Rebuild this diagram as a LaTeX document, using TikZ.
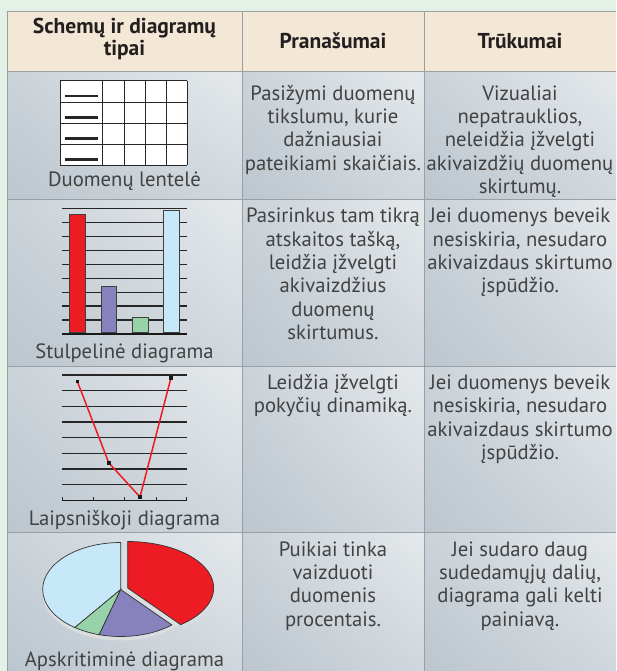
\documentclass[tikz,border=0pt]{standalone}
\usepackage{fontspec}
\setmainfont{PT Sans}
\usetikzlibrary{shadings}
\definecolor{bg}{HTML}{E3F1E6}
\definecolor{hdr}{HTML}{F3E7D6}
\definecolor{gridc}{HTML}{9C9FA2}
\definecolor{txt}{HTML}{424242}
\definecolor{htxt}{HTML}{231F20}
\definecolor{cLL}{HTML}{BCC6CE}
\definecolor{cLR}{HTML}{D0D7DC}
\definecolor{cUL}{HTML}{CBD3D9}
\definecolor{cUR}{HTML}{E5E9EC}
\definecolor{barred}{HTML}{ED1C24}
\definecolor{barpurple}{HTML}{8781BD}
\definecolor{bargreen}{HTML}{98D2A8}
\definecolor{barblue}{HTML}{C7E8F8}
\definecolor{rim}{HTML}{DADEE1}
\newcommand\bodyfont{\fontsize{20.7}{23.3}\selectfont}
\newcommand\headfont{\fontsize{21.5}{22}\selectfont\bfseries}
\tikzset{
  cellshade/.style={lower left=cLL, lower right=cLR, upper left=cUL, upper right=cUR},
  gridline/.style={draw=gridc, line width=1pt},
  bodytxt/.style={font=\bodyfont, align=center, inner sep=0pt, anchor=north, text=txt},
  headtxt/.style={font=\headfont, align=center, inner sep=0pt, text=htxt},
  captxt/.style={font=\bodyfont, inner sep=0pt, anchor=base, text=txt},
  iconline/.style={draw=black!85, line width=0.9pt},
  chartline/.style={draw=black!85, line width=1.1pt},
  baseaxis/.style={draw=black!90, line width=2pt},
  bar/.style={draw=black!75, line width=0.7pt},
  pt/.style={fill=black!90, minimum size=3.6pt, inner sep=0pt, rectangle},
  slice/.style={draw=black!80, line width=0.7pt},
}
\begin{document}
\begin{tikzpicture}[x=1pt,y=-1pt]
\useasboundingbox (0,0) rectangle (616,671);
\fill[bg] (0,0) rectangle (616,671);
% header
\fill[hdr] (7,12) rectangle (616,72);
% body cells
\foreach \ya/\yb in {72/199.5, 199.5/366, 366/532, 532/671}{
  \foreach \xa/\xb in {7/242, 242/424, 424/616}{
    \shade[cellshade] (\xa,\ya) rectangle (\xb,\yb);
  }
}
% grid lines
\draw[gridline] (7,12) -- (616,12);
\draw[gridline] (7,12) -- (7,671);
\foreach \y in {72,199.5,366,532}{ \draw[gridline] (7,\y) -- (616,\y); }
\foreach \x in {242,424}{ \draw[gridline] (\x,12) -- (\x,671); }

% header texts
\node[headtxt, anchor=north] (h1) at (124.5,18.2) {\strut Schemų ir diagramų\\tipai};
\node[headtxt, anchor=base] (h2) at (333,48.5) {Pranašumai};
\node[headtxt, anchor=base] (h3) at (520,48.5) {Trūkumai};

% row 1 icon: table
\fill[white] (60.3,80.7) rectangle (187.3,165);
\foreach \x in {60.3,102.3,124,145.3,166.7,187.3}{ \draw[iconline] (\x,80.7) -- (\x,165); }
\foreach \y in {80.7,102,123.3,144.7,165}{ \draw[iconline] (60.3,\y) -- (187.3,\y); }
\foreach \y in {96.3,117.5,138.6,159.6}{ \draw[draw=black!85, line width=2.2pt] (65,\y) -- (98.3,\y); }
\node[captxt] (c1) at (124.5,186.5) {Duomenų lentelė};

% row 2 icon: bar chart
\foreach \y in {208.3,222.3,236.3,250.3,264.3,278.3,292.3,306,320}{ \draw[chartline] (62,\y) -- (187.3,\y); }
\draw[baseaxis] (62,333.7) -- (187.3,333.7);
\filldraw[bar, fill=barred] (69.3,214) rectangle (85.7,332.7);
\filldraw[bar, fill=barpurple] (101,286) rectangle (116.7,332.7);
\filldraw[bar, fill=bargreen] (132.3,317.3) rectangle (148,332.7);
\filldraw[bar, fill=barblue] (163.3,210.7) rectangle (179.3,332.7);
\node[captxt] (c2) at (124.5,358.3) {Stulpelinė diagrama};

% row 3 icon: line chart
\foreach \y in {375,390.7,406.3,422,437.7,453.3,469,484.7}{ \draw[chartline] (62,\y) -- (187.3,\y); }
\draw[baseaxis, line width=1.6pt] (62,500.3) -- (187.3,500.3);
\foreach \x in {62.5,93.3,124.7,156,186.8}{ \draw[draw=black!85, line width=0.9pt] (\x,500.3) -- (\x,496.8); }
\node[pt] (p1) at (77.3,381.3) {};
\node[pt] (p2) at (108.7,462.7) {};
\node[pt] (p3) at (140,497) {};
\node[pt] (p4) at (171,377.7) {};
\draw[barred, line width=1.5pt] (p1.center) -- (p2.center) -- (p3.center) -- (p4.center);
\foreach \p in {p1,p2,p3,p4}{ \fill[black!90] (\p.center) +(-1.8,-1.8) rectangle +(1.8,1.8); }
\node[captxt] (c3) at (124.5,525.7) {Laipsniškoji diagrama};

% row 4 icon: pie chart
\begin{scope}[shift={(120.7,589.5)}, y=1pt]
  \fill[rim] (0,-4) ellipse [x radius=78, y radius=47];
  \filldraw[slice, fill=barblue] (0,0) -- (90:78 and 47) arc[start angle=90, end angle=234, x radius=78, y radius=47] -- cycle;
  \filldraw[slice, fill=bargreen] (0,0) -- (234:78 and 47) arc[start angle=234, end angle=254, x radius=78, y radius=47] -- cycle;
  \filldraw[slice, fill=barpurple] (0,0) -- (254:78 and 47) arc[start angle=254, end angle=311, x radius=78, y radius=47] -- cycle;
  \begin{scope}[shift={(7,1.5)}]
    \fill[rim] (0,-4) -- (-52:86 and 46.5) ++(0,-4) arc[start angle=-52, end angle=0, x radius=86, y radius=46.5] -- (86,0) -- cycle;
    \filldraw[slice, fill=barred] (0,0) -- (-52:86 and 46.5) arc[start angle=-52, end angle=90, x radius=86, y radius=46.5] -- cycle;
  \end{scope}
\end{scope}
\node[captxt] (c4) at (124.5,666.5) {Apskritiminė diagrama};

% body texts
\node[bodytxt] (t12) at (333,83.7) {\strut Pasižymi duomenų\\tikslumu, kurie\\dažniausiai\\pateikiami skaičiais.};
\node[bodytxt] (t13) at (520,83.7) {\strut Vizualiai\\nepatrauklios,\\neleidžia įžvelgti\\akivaizdžių duomenų\\skirtumų.};
\node[bodytxt] (t22) at (333,206.3) {\strut Pasirinkus tam tikrą\\atskaitos tašką,\\leidžia įžvelgti\\akivaizdžius\\duomenų\\skirtumus.};
\node[bodytxt] (t23) at (520,206.3) {\strut Jei duomenys beveik\\nesiskiria, nesudaro\\akivaizdaus skirtumo\\įspūdžio.};
\node[bodytxt] (t32) at (333,373) {\strut Leidžia įžvelgti\\pokyčių dinamiką.};
\node[bodytxt] (t33) at (520,373) {\strut Jei duomenys beveik\\nesiskiria, nesudaro\\akivaizdaus skirtumo\\įspūdžio.};
\node[bodytxt] (t42) at (333,539.7) {\strut Puikiai tinka\\vaizduoti\\duomenis\\procentais.};
\node[bodytxt] (t43) at (520,539.7) {\strut Jei sudaro daug\\sudedamųjų dalių,\\diagrama gali kelti\\painiavą.};
\end{tikzpicture}
\end{document}
